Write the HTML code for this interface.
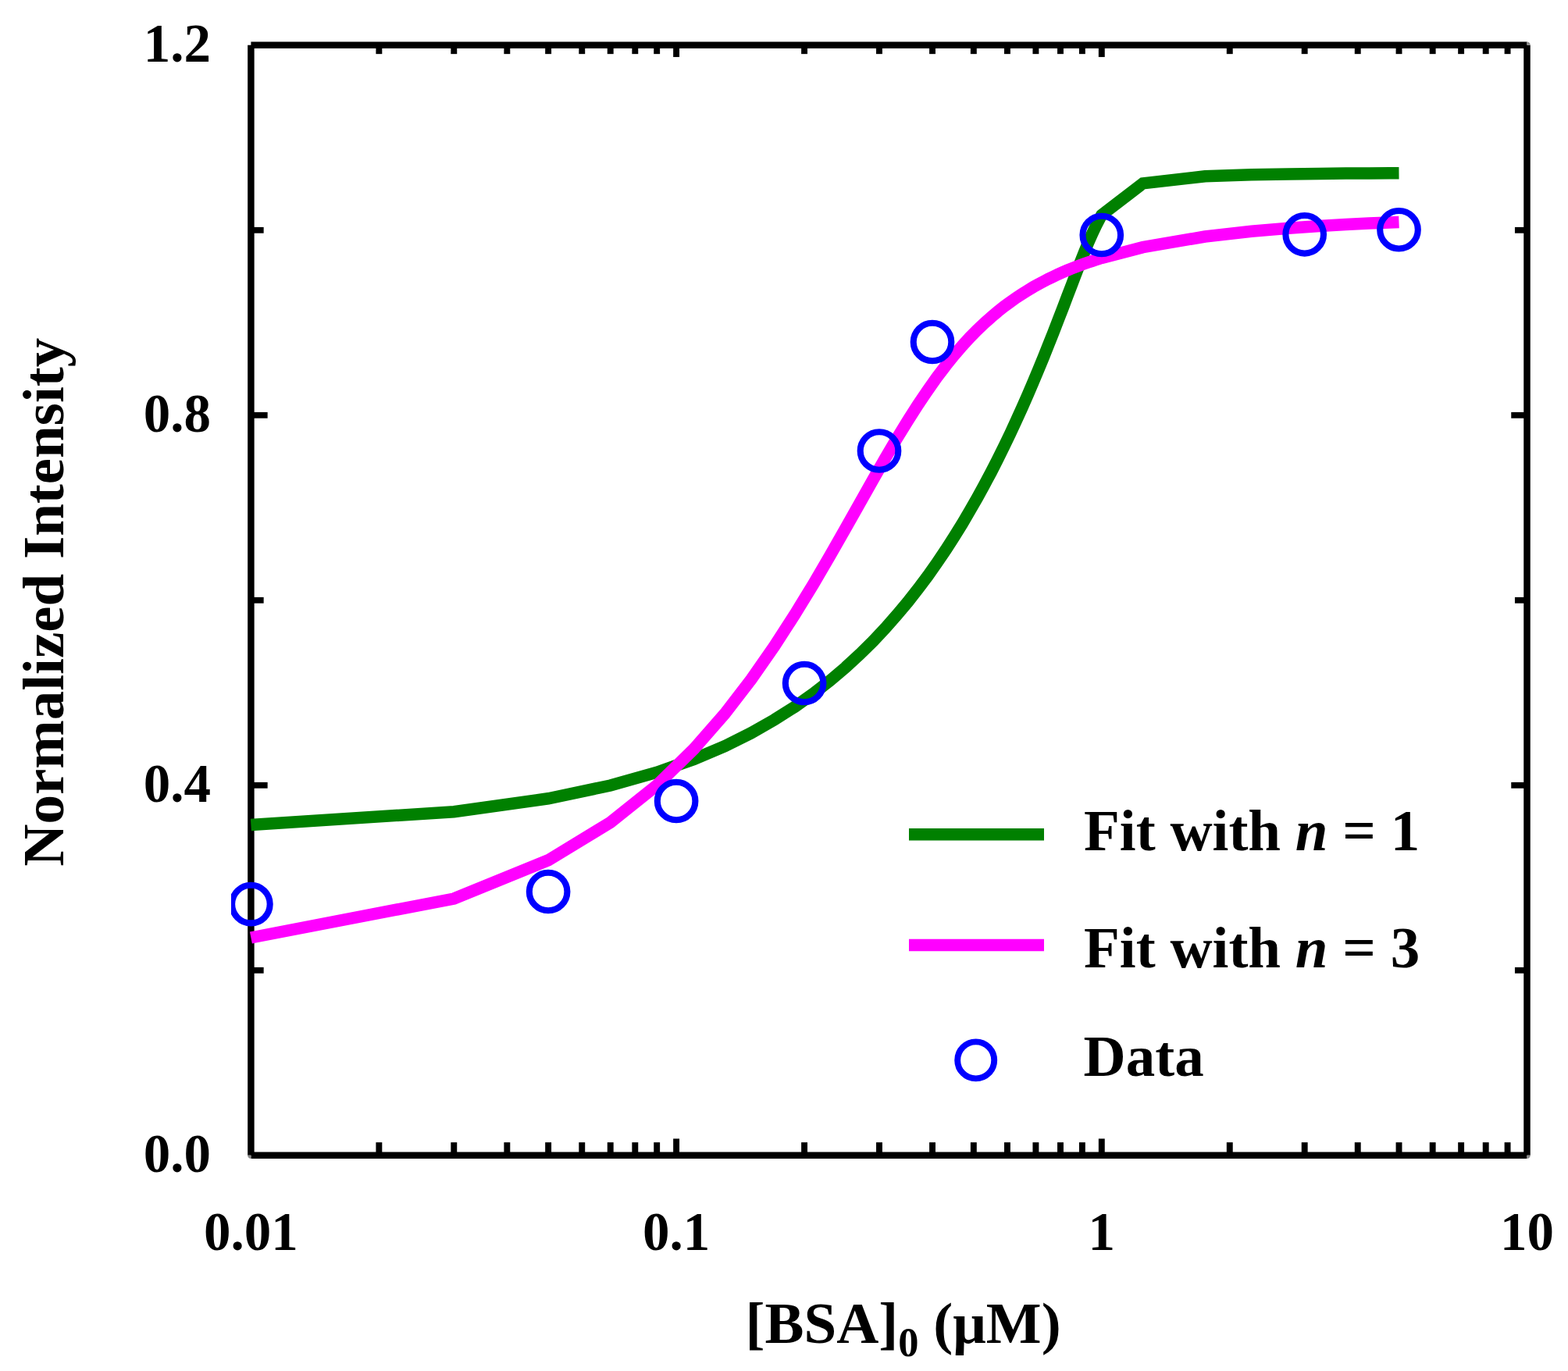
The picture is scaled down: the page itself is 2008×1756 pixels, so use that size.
<!DOCTYPE html>
<html><head><meta charset="utf-8"><title>Normalized Intensity vs [BSA]0</title>
<style>
html,body{margin:0;padding:0;background:#fff;}
svg{display:block;}
text{font-family:"Liberation Serif","Times New Roman",serif;font-weight:bold;fill:#000;}
</style></head><body>
<svg width="2008" height="1756" viewBox="0 0 2008 1756">
<defs><clipPath id="clip"><rect x="296" y="20" width="1700" height="1480"/></clipPath></defs>
<rect width="2008" height="1756" fill="#fff"/>

<g stroke="#000" stroke-width="8.5" fill="none">
<line x1="321.4" y1="57.8" x2="1955.5" y2="57.8"/>
<line x1="321.4" y1="1479.8" x2="1955.5" y2="1479.8"/>
<line x1="321.4" y1="57.8" x2="321.4" y2="1479.8"/>
<line x1="1955.5" y1="57.8" x2="1955.5" y2="1479.8"/>
</g>
<g fill="#8a8a8a">
<path d="M1955.5,57.8 L1955.5,53.55 A4.25,4.25 0 0 1 1959.75,57.8 Z"/>
<path d="M321.4,1479.8 L317.15,1479.8 A4.25,4.25 0 0 0 321.4,1484.05 Z"/>
<path d="M1955.5,1479.8 L1959.75,1479.8 A4.25,4.25 0 0 1 1955.5,1484.05 Z"/>
</g>
<g fill="#000"><rect x="481.42" y="1463.15" width="7.9" height="13.40"/><rect x="481.42" y="61.05" width="7.9" height="8.10"/><rect x="577.34" y="1463.15" width="7.9" height="13.40"/><rect x="577.34" y="61.05" width="7.9" height="8.10"/><rect x="645.39" y="1463.15" width="7.9" height="13.40"/><rect x="645.39" y="61.05" width="7.9" height="8.10"/><rect x="698.18" y="1463.15" width="7.9" height="13.40"/><rect x="698.18" y="61.05" width="7.9" height="8.10"/><rect x="741.31" y="1463.15" width="7.9" height="13.40"/><rect x="741.31" y="61.05" width="7.9" height="8.10"/><rect x="777.77" y="1463.15" width="7.9" height="13.40"/><rect x="777.77" y="61.05" width="7.9" height="8.10"/><rect x="809.36" y="1463.15" width="7.9" height="13.40"/><rect x="809.36" y="61.05" width="7.9" height="8.10"/><rect x="837.23" y="1463.15" width="7.9" height="13.40"/><rect x="837.23" y="61.05" width="7.9" height="8.10"/><rect x="862.15" y="1458.45" width="7.9" height="18.10"/><rect x="862.15" y="61.05" width="7.9" height="12.00"/><rect x="1026.12" y="1463.15" width="7.9" height="13.40"/><rect x="1026.12" y="61.05" width="7.9" height="8.10"/><rect x="1122.04" y="1463.15" width="7.9" height="13.40"/><rect x="1122.04" y="61.05" width="7.9" height="8.10"/><rect x="1190.09" y="1463.15" width="7.9" height="13.40"/><rect x="1190.09" y="61.05" width="7.9" height="8.10"/><rect x="1242.88" y="1463.15" width="7.9" height="13.40"/><rect x="1242.88" y="61.05" width="7.9" height="8.10"/><rect x="1286.01" y="1463.15" width="7.9" height="13.40"/><rect x="1286.01" y="61.05" width="7.9" height="8.10"/><rect x="1322.47" y="1463.15" width="7.9" height="13.40"/><rect x="1322.47" y="61.05" width="7.9" height="8.10"/><rect x="1354.06" y="1463.15" width="7.9" height="13.40"/><rect x="1354.06" y="61.05" width="7.9" height="8.10"/><rect x="1381.93" y="1463.15" width="7.9" height="13.40"/><rect x="1381.93" y="61.05" width="7.9" height="8.10"/><rect x="1406.85" y="1458.45" width="7.9" height="18.10"/><rect x="1406.85" y="61.05" width="7.9" height="12.00"/><rect x="1570.82" y="1463.15" width="7.9" height="13.40"/><rect x="1570.82" y="61.05" width="7.9" height="8.10"/><rect x="1666.74" y="1463.15" width="7.9" height="13.40"/><rect x="1666.74" y="61.05" width="7.9" height="8.10"/><rect x="1734.79" y="1463.15" width="7.9" height="13.40"/><rect x="1734.79" y="61.05" width="7.9" height="8.10"/><rect x="1787.58" y="1463.15" width="7.9" height="13.40"/><rect x="1787.58" y="61.05" width="7.9" height="8.10"/><rect x="1830.71" y="1463.15" width="7.9" height="13.40"/><rect x="1830.71" y="61.05" width="7.9" height="8.10"/><rect x="1867.17" y="1463.15" width="7.9" height="13.40"/><rect x="1867.17" y="61.05" width="7.9" height="8.10"/><rect x="1898.76" y="1463.15" width="7.9" height="13.40"/><rect x="1898.76" y="61.05" width="7.9" height="8.10"/><rect x="1926.63" y="1463.15" width="7.9" height="13.40"/><rect x="1926.63" y="61.05" width="7.9" height="8.10"/><rect x="324.65" y="1238.90" width="13" height="7.8"/><rect x="1939.95" y="1238.90" width="12.3" height="7.8"/><rect x="324.65" y="1001.90" width="18" height="7.8"/><rect x="1935.25" y="1001.90" width="17" height="7.8"/><rect x="324.65" y="764.90" width="13" height="7.8"/><rect x="1939.95" y="764.90" width="12.3" height="7.8"/><rect x="324.65" y="527.90" width="18" height="7.8"/><rect x="1935.25" y="527.90" width="17" height="7.8"/><rect x="324.65" y="290.90" width="13" height="7.8"/><rect x="1939.95" y="290.90" width="12.3" height="7.8"/></g>
<g clip-path="url(#clip)" fill="none" stroke-linejoin="miter" stroke-miterlimit="10">
<polyline points="321.4,1056.5 581.3,1039.7 702.1,1022.8 781.7,1006.0 841.2,989.2 888.6,972.4 928.2,955.6 962.0,938.8 991.6,921.9 1017.9,905.2 1041.6,888.4 1063.1,871.6 1082.9,854.8 1101.1,838.0 1118.0,821.3 1133.7,804.5 1148.5,787.7 1162.5,771.0 1175.6,754.3 1188.1,737.6 1199.9,720.9 1211.2,704.2 1221.9,687.5 1232.2,670.9 1242.0,654.2 1251.5,637.6 1260.6,621.0 1269.4,604.5 1277.8,587.9 1286.0,571.4 1293.9,555.0 1301.5,538.6 1308.9,522.2 1316.1,505.9 1323.0,489.7 1329.8,473.6 1336.4,457.5 1342.7,441.6 1349.0,425.9 1355.0,410.3 1361.0,394.9 1366.7,379.8 1372.4,365.0 1377.9,350.6 1383.2,336.7 1388.5,323.4 1393.6,310.9 1398.7,299.4 1403.6,288.9 1408.4,279.6 1410.8,275.4 1463.6,234.9 1543.2,225.8 1602.6,223.8 1650.1,222.9 1689.6,222.4 1723.5,222.1 1753.1,221.9 1779.4,221.8 1791.5,221.7" stroke="#008000" stroke-width="15.5"/>
<polyline points="321.4,1201.0 581.3,1151.0 702.1,1101.8 781.7,1053.3 841.2,1005.8 888.6,959.3 928.2,914.1 962.0,870.1 991.6,827.7 1017.9,787.0 1041.6,748.2 1063.1,711.3 1082.9,676.7 1101.1,644.4 1118.0,614.4 1133.7,586.9 1148.5,561.7 1162.5,538.9 1175.6,518.3 1188.1,499.8 1199.9,483.1 1211.2,468.2 1221.9,454.9 1232.2,442.9 1242.0,432.2 1251.5,422.6 1260.6,413.9 1269.4,406.1 1277.8,399.0 1286.0,392.5 1293.9,386.7 1301.5,381.3 1308.9,376.5 1316.1,372.0 1323.0,367.8 1329.8,364.0 1336.4,360.5 1342.7,357.2 1349.0,354.2 1355.0,351.3 1361.0,348.7 1366.7,346.2 1372.4,343.9 1377.9,341.8 1383.2,339.7 1388.5,337.8 1393.6,336.0 1398.7,334.3 1403.6,332.7 1408.4,331.1 1410.8,330.4 1463.6,316.7 1543.2,303.0 1602.6,296.2 1650.1,292.2 1689.6,289.5 1723.5,287.6 1753.1,286.1 1779.4,285.0 1791.5,284.5" stroke="#ff00ff" stroke-width="15.5"/>
<circle cx="321.4" cy="1158.1" r="24.3" stroke="#0000ff" stroke-width="8.1"/>
<circle cx="702.1" cy="1142" r="24.3" stroke="#0000ff" stroke-width="8.1"/>
<circle cx="866.1" cy="1026" r="24.3" stroke="#0000ff" stroke-width="8.1"/>
<circle cx="1030.1" cy="875" r="24.3" stroke="#0000ff" stroke-width="8.1"/>
<circle cx="1126.0" cy="577.5" r="24.3" stroke="#0000ff" stroke-width="8.1"/>
<circle cx="1194.0" cy="438" r="24.3" stroke="#0000ff" stroke-width="8.1"/>
<circle cx="1410.8" cy="301" r="24.3" stroke="#0000ff" stroke-width="8.1"/>
<circle cx="1670.7" cy="300.3" r="24.3" stroke="#0000ff" stroke-width="8.1"/>
<circle cx="1791.5" cy="294.25" r="24.3" stroke="#0000ff" stroke-width="8.1"/>
</g>
<text x="270" y="1500.9" font-size="69" text-anchor="end">0.0</text>
<text x="270" y="1026.9" font-size="69" text-anchor="end">0.4</text>
<text x="270" y="552.9" font-size="69" text-anchor="end">0.8</text>
<text x="270" y="78.9" font-size="69" text-anchor="end">1.2</text>
<text x="321.4" y="1600.9" font-size="69" text-anchor="middle">0.01</text>
<text x="866.1" y="1600.9" font-size="69" text-anchor="middle">0.1</text>
<text x="1410.8" y="1600.9" font-size="69" text-anchor="middle">1</text>
<text x="1955.5" y="1600.9" font-size="69" text-anchor="middle">10</text>
<line x1="1164" y1="1068.8" x2="1337" y2="1068.8" stroke="#008000" stroke-width="15.5"/>
<line x1="1164" y1="1210.4" x2="1337" y2="1210.4" stroke="#ff00ff" stroke-width="15.5"/>
<circle cx="1249.7" cy="1357.9" r="23.5" fill="none" stroke="#0000ff" stroke-width="7.9"/>
<text x="1388" y="1088.7" font-size="75">Fit with <tspan font-style="italic">n</tspan> = 1</text>
<text x="1388" y="1238.75" font-size="75">Fit with <tspan font-style="italic">n</tspan> = 3</text>
<text x="1387.5" y="1378.1" font-size="75">Data</text>
<text x="954.5" y="1720" font-size="75">[BSA]<tspan font-size="52.5" dy="17">0</tspan><tspan dy="-17"> (μM)</tspan></text>
<text transform="translate(80.5,771.2) rotate(-90)" font-size="75" text-anchor="middle">Normalized Intensity</text>
</svg></body></html>
